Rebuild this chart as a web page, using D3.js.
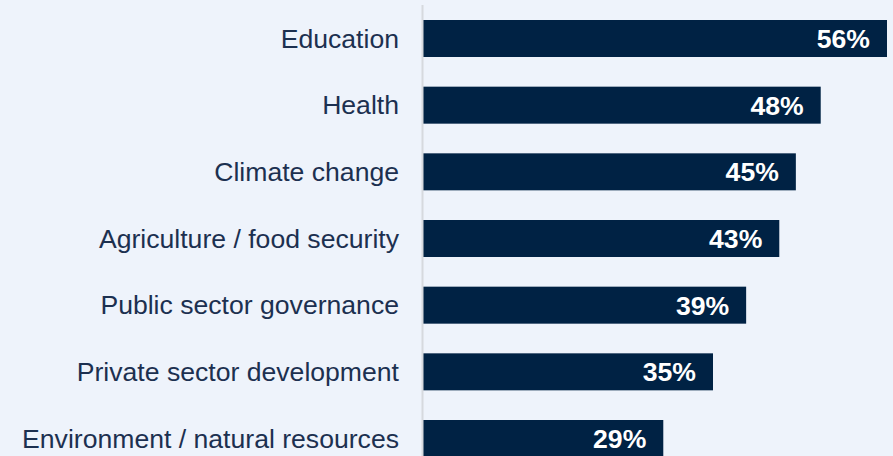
<!DOCTYPE html>
<html>
<head>
<meta charset="utf-8">
<script src="https://cdn.jsdelivr.net/npm/d3@7"></script>
<style>
  html, body { margin: 0; padding: 0; background: #eef3fb; }
  svg { display: block; }
</style>
</head>
<body>
<svg id="chart" width="893" height="456"></svg>
<script>
const categories = [
  'Education',
  'Health',
  'Climate change',
  'Agriculture / food security',
  'Public sector governance',
  'Private sector development',
  'Environment / natural resources'
]
const values = [56, 48, 45, 43, 39, 35, 29]

const svg = d3.select('#chart')
const width = 893
const height = 456

svg.append('rect').attr('width', width).attr('height', height).attr('fill', '#eef3fb')

const xscale = d3.scaleLinear().domain([0, 56]).range([423, 887])
const yscale = d3.scaleBand().domain(categories).range([20, 457]).paddingInner(0.445).paddingOuter(0)

const rows = categories.map((c, i) => ({ cat: c, val: values[i] }))

// bars
svg.append('g').selectAll('rect').data(rows).enter()
  .append('rect')
  .attr('x', xscale(0))
  .attr('y', d => yscale(d.cat))
  .attr('width', d => xscale(d.val) - xscale(0))
  .attr('height', yscale.bandwidth())
  .attr('fill', '#002244')

// vertical axis line
svg.append('line')
  .attr('x1', xscale(0) - 0.5).attr('x2', xscale(0) - 0.5)
  .attr('y1', 5).attr('y2', height)
  .attr('stroke', '#d6d9de').attr('stroke-width', 2)

// category labels
svg.append('g').selectAll('text').data(rows).enter()
  .append('text')
  .attr('x', 399)
  .attr('y', d => yscale(d.cat) + yscale.bandwidth() / 2)
  .attr('dy', '0.35em')
  .attr('text-anchor', 'end')
  .attr('font-family', 'Liberation Sans, Arial, sans-serif')
  .attr('font-size', 26.6)
  .attr('fill', '#1c3050')
  .text(d => d.cat)

// value labels
svg.append('g').selectAll('text').data(rows).enter()
  .append('text')
  .attr('x', d => xscale(d.val) - 17)
  .attr('y', d => yscale(d.cat) + yscale.bandwidth() / 2)
  .attr('dy', '0.36em')
  .attr('text-anchor', 'end')
  .attr('font-family', 'Liberation Sans, Arial, sans-serif')
  .attr('font-weight', 'bold')
  .attr('font-size', 26.6)
  .attr('fill', '#ffffff')
  .text(d => d.val + '%')
</script>
</body>
</html>
